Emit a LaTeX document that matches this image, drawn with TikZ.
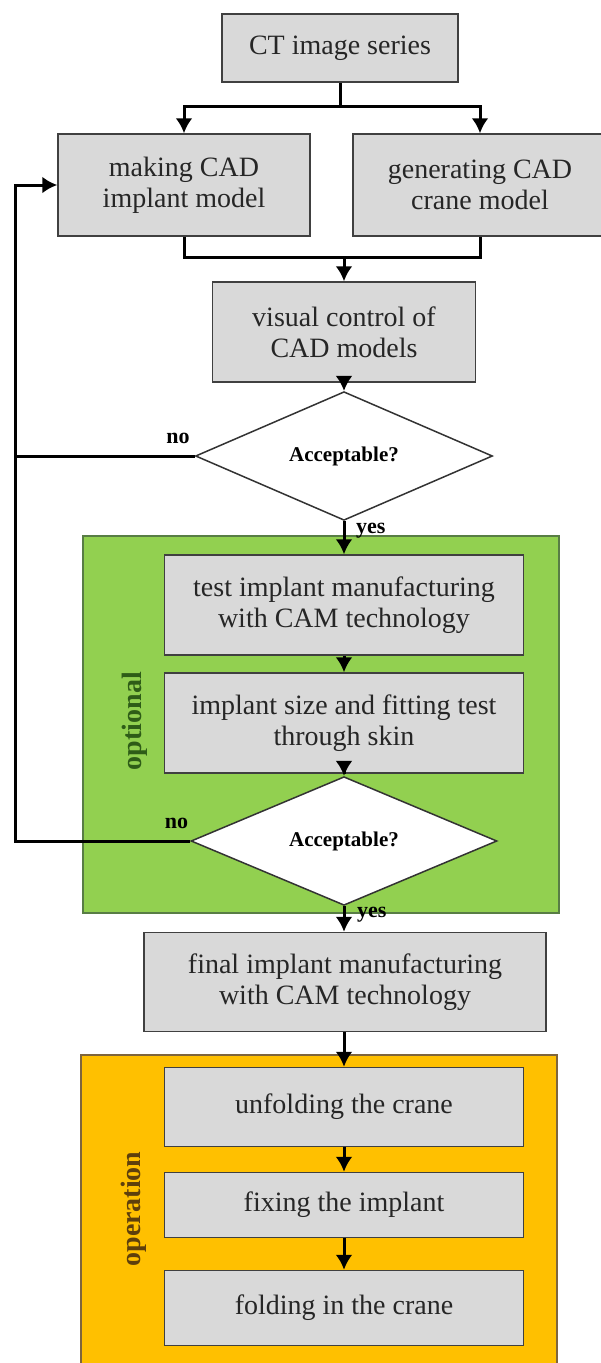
\documentclass[tikz,border=0pt]{standalone}
\usepackage{fontspec}
\setmainfont{Liberation Serif}
\usetikzlibrary{shapes.geometric,positioning,arrows.meta}
\definecolor{boxgray}{HTML}{D9D9D9}
\definecolor{optgreen}{HTML}{92D050}
\definecolor{opyellow}{HTML}{FFC000}
\definecolor{optdark}{HTML}{2E5C17}
\definecolor{opdark}{HTML}{5E3F0C}
\tikzset{
  stepbox/.style={draw=black!75, line width=1.5pt, fill=boxgray, text=black!85,
    align=center, inner sep=0pt, font=\fontsize{28}{31}\selectfont},
  decide/.style={diamond, draw=black!80, line width=1.5pt, fill=white,
    inner sep=0pt, font=\bfseries\fontsize{21}{24}\selectfont},
  lbl/.style={font=\bfseries\fontsize{22}{24}\selectfont, inner sep=0pt},
  flow/.style={line width=3pt},
  side/.style={font=\bfseries\fontsize{28}{30}\selectfont, rotate=90},
}
\begin{document}
\begin{tikzpicture}[x=1pt, y=-1pt, >={Latex[length=15pt,width=17pt]}]
\useasboundingbox (0,0) rectangle (600,1363);
% panels
\draw[fill=optgreen, draw=optdark!80, line width=1.2pt] (83,536) rectangle (559,913);
\draw[fill=opyellow, draw=opdark!80, line width=1.2pt] (81,1055) rectangle (557,1390);
\node[side, text=optdark] (opt) at (135,721) {optional};
\node[side, text=opdark] (oper) at (134,1209) {operation};

% steps
\node[stepbox, minimum width=236pt, minimum height=68pt] (ct) at (340,48) {CT image series};
\node[stepbox, minimum width=252pt, minimum height=102pt] (mk) at (184,185) {making CAD\\implant model};
\node[stepbox, minimum width=254pt, minimum height=102pt] (gen) at (480,185) {generating CAD\\crane model};
\node[stepbox, minimum width=263pt, minimum height=100pt] (vis) at (344,332) {visual control of\\CAD models};
\node[decide, minimum width=297pt, minimum height=95pt] (acc1) at (344,456) {Acceptable?};
\node[stepbox, minimum width=359pt, minimum height=100pt] (test) at (344,605) {test implant manufacturing\\with CAM technology};
\node[stepbox, minimum width=359pt, minimum height=100pt] (size) at (344,723) {implant size and fitting test\\through skin};
\node[decide, minimum width=306pt, minimum height=96pt] (acc2) at (344,841) {Acceptable?};
\node[stepbox, minimum width=402pt, minimum height=99pt] (final) at (345,982) {final implant manufacturing\\with CAM technology};
\node[stepbox, minimum width=359pt, minimum height=79pt] (unf) at (344,1107) {unfolding the crane};
\node[stepbox, minimum width=359pt, minimum height=65pt] (fix) at (344,1205) {fixing the implant};
\node[stepbox, minimum width=359pt, minimum height=75pt] (fold) at (344,1308) {folding in the crane};

% connectors
\coordinate (split) at (340,106);
\coordinate (merge) at (344,257);
\coordinate (loop) at (15,841);
\draw[flow,->] (ct.south) -- (split) -| (mk.north);
\draw[flow,->] (split) -| (gen.north);
\draw[flow] (mk.south) |- (merge) -| (gen.south);
\draw[flow,->] (merge) -- (vis.north);
\draw[flow,->] (vis.south) -- (acc1.north);
\draw[flow,->] (acc1.south) -- (test.north);
\draw[flow,->] (test.south) -- (size.north);
\draw[flow,->] (size.south) -- (acc2.north);
\draw[flow,->] (acc2.south) -- (acc2.south |- final.north);
\draw[flow,->] (final.south -| unf.north) -- (unf.north);
\draw[flow,->] (unf.south) -- (fix.north);
\draw[flow,->] (fix.south) -- (fold.north);
\draw[flow,->] (acc2.west) -- (loop) |- (mk.west);
\draw[flow] (acc1.west) -- (loop |- acc1.west);

% labels
\node[lbl, above left=12pt and 5pt of acc1.west] (no1) {no};
\node[lbl, below right=2pt and 12pt of acc1.south] (yes1) {yes};
\node[lbl, above left=12pt and 2pt of acc2.west] (no2) {no};
\node[lbl, below right=1pt and 13pt of acc2.south] (yes2) {yes};
\end{tikzpicture}
\end{document}
